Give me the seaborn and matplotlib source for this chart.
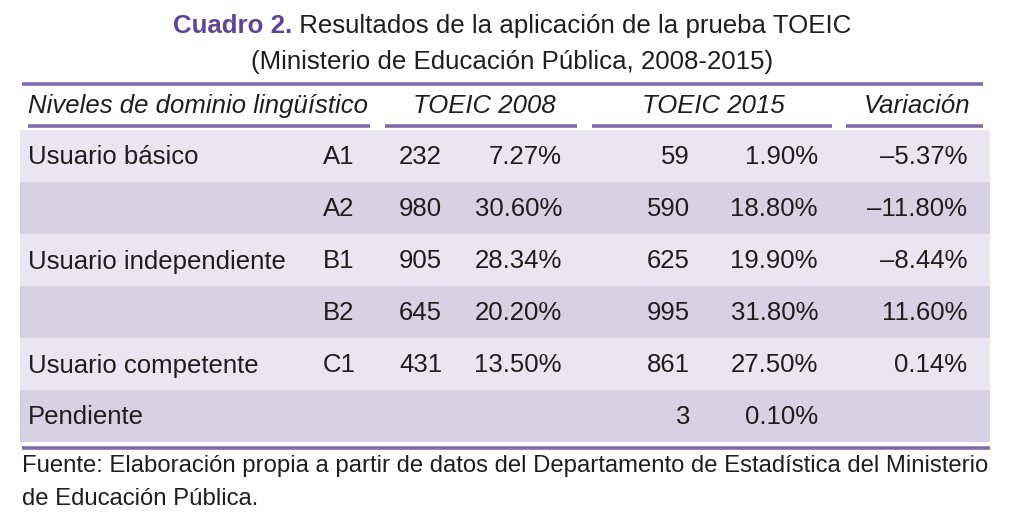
import numpy as np
import matplotlib
matplotlib.use("Agg")
import matplotlib.pyplot as plt
from matplotlib.colors import ListedColormap
import seaborn as sns

# table content
groups    = ["Usuario básico", "", "Usuario independiente", "", "Usuario competente", "Pendiente"]
levels    = ["A1", "A2", "B1", "B2", "C1", ""]
n_2008    = [232, 980, 905, 645, 431, None]
pct_2008  = [7.27, 30.60, 28.34, 20.20, 13.50, None]
n_2015    = [59, 590, 625, 995, 861, 3]
pct_2015  = [1.90, 18.80, 19.90, 31.80, 27.50, 0.10]
variation = [-5.37, -11.80, -8.44, 11.60, 0.14, None]
headers   = ["Niveles de dominio lingüístico", "TOEIC 2008", "TOEIC 2015", "Variación"]

TITLE_1 = "Cuadro 2."
TITLE_2 = " Resultados de la aplicación de la prueba TOEIC"
TITLE_3 = "(Ministerio de Educación Pública, 2008-2015)"
SOURCE  = ["Fuente: Elaboración propia a partir de datos del Departamento de Estadística del Ministerio",
           "de Educación Pública."]

PURPLE   = "#5e4596"
LINE_COL = "#7f6daa"
LIGHT    = "#e9e6f1"
DARK     = "#d6d2e3"
TXT      = "#1e1e1e"
FS       = 18.5

W, H = 1024, 530

sns.set_theme(style="white")
plt.rcParams["font.family"] = ["Liberation Sans", "DejaVu Sans"]


def pct(v):
    if v is None:
        return ""
    return f"{v:.2f}%".replace("-", "\u2013")


def num(v):
    return "" if v is None else str(v)


fig = plt.figure(figsize=(W / 100, H / 100), dpi=100)
fig.patch.set_facecolor("white")

# row bands via a one-column heatmap
row_top, row_h = 130, 52
n_rows = len(groups)
band_x0, band_x1 = 20, 990
bax = fig.add_axes([band_x0 / W, 1 - (row_top + n_rows * row_h) / H,
                    (band_x1 - band_x0) / W, n_rows * row_h / H])
band_vals = np.array([[i % 2] for i in range(n_rows)])
sns.heatmap(band_vals, cmap=ListedColormap([LIGHT, DARK]), cbar=False,
            ax=bax, linewidths=0)
bax.set_axis_off()

# overlay axes in pixel coordinates
ax = fig.add_axes([0, 0, 1, 1])
ax.set_xlim(0, W)
ax.set_ylim(H, 0)
ax.set_axis_off()
ax.patch.set_alpha(0)

# title
t1 = ax.text(0, 26, TITLE_1, fontsize=18.6, fontweight="bold", color=PURPLE,
             ha="left", va="center")
t2 = ax.text(0, 26, TITLE_2, fontsize=18.6, color=TXT, ha="left", va="center")
r = fig.canvas.get_renderer()
w1 = t1.get_window_extent(r).width
w2 = t2.get_window_extent(r).width
x0 = (W - w1 - w2) / 2
t1.set_x(x0)
t2.set_x(x0 + w1)
ax.text(W / 2, 62, TITLE_3, fontsize=18.6, color=TXT, ha="center", va="center")

# rules
ax.plot([22, 983], [83.5, 83.5], color=LINE_COL, lw=2.6, solid_capstyle="butt")
for xa, xb in [(28, 370), (385, 577), (592, 832), (846, 983)]:
    ax.plot([xa, xb], [126, 126], color=LINE_COL, lw=2.6, solid_capstyle="butt")
ax.plot([22, 990], [448, 448], color=LINE_COL, lw=2.6, solid_capstyle="butt")

# header
hy = 106
ax.text(28, hy, headers[0], fontsize=FS, style="italic", color=TXT, ha="left", va="center")
ax.text(484, hy, headers[1], fontsize=FS, style="italic", color=TXT, ha="center", va="center")
ax.text(713, hy, headers[2], fontsize=FS, style="italic", color=TXT, ha="center", va="center")
ax.text(917, hy, headers[3], fontsize=FS, style="italic", color=TXT, ha="center", va="center")

# body
for i in range(n_rows):
    y = row_top + row_h * (i + 0.5) + 1.5
    kw = dict(fontsize=FS, color=TXT, va="center")
    ax.text(28, y, groups[i], ha="left", **kw)
    ax.text(323, y, levels[i], ha="left", **kw)
    ax.text(442, y, num(n_2008[i]), ha="right", **kw)
    ax.text(562, y, pct(pct_2008[i]), ha="right", **kw)
    ax.text(690, y, num(n_2015[i]), ha="right", **kw)
    ax.text(818, y, pct(pct_2015[i]), ha="right", **kw)
    ax.text(967, y, pct(variation[i]), ha="right", **kw)

# source note
ax.text(22, 466, SOURCE[0], fontsize=17.2, color=TXT, ha="left", va="center")
ax.text(22, 499, SOURCE[1], fontsize=17.2, color=TXT, ha="left", va="center")

fig.savefig("out.png", dpi=100, facecolor="white")
